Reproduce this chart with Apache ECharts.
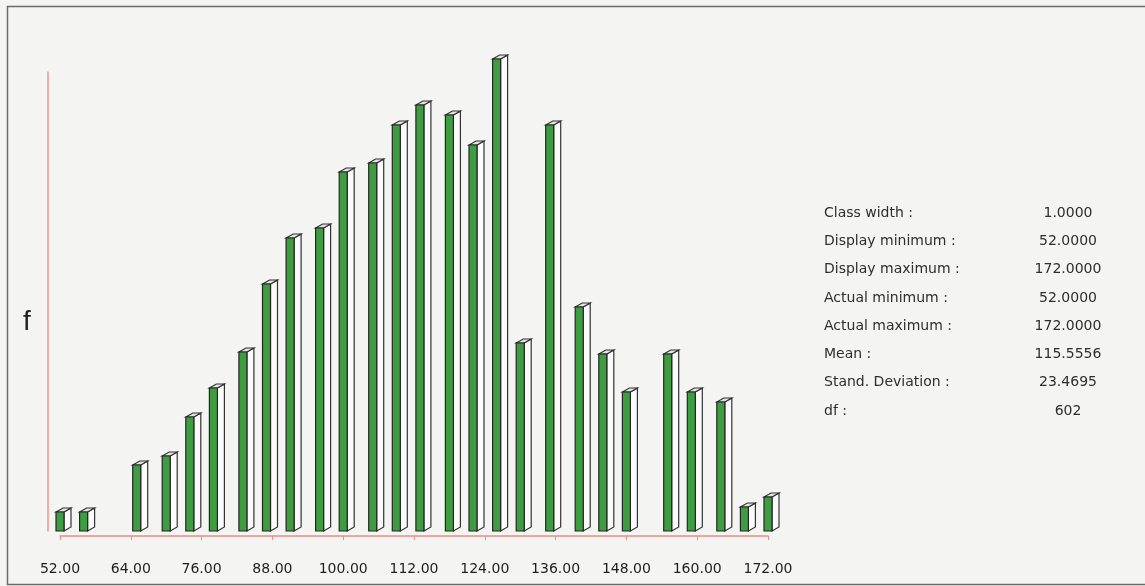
<!DOCTYPE html>
<html><head><meta charset="utf-8">
<script src="https://cdn.jsdelivr.net/npm/echarts@6/dist/echarts.min.js"></script>
<style>html,body{margin:0;padding:0;background:#f4f4f2}#c{width:1145px;height:586px}</style>
</head><body><div id="c"></div>
<script>
// class values (x) and frequencies (f)
const classValues = [52,56,65,70,74,78,83,87,91,96,100,105,109,113,118,122,126,130,135,140,144,148,155,159,164,168,172];
const frequencies = [1.9,1.9,6.6,7.5,11.4,14.3,17.9,24.7,29.3,30.3,35.9,36.8,40.6,42.6,41.6,38.6,47.2,18.8,40.6,22.4,17.7,13.9,17.7,13.9,12.9,2.4,3.4];
const xTickLabels = ['52.00','64.00','76.00','88.00','100.00','112.00','124.00','136.00','148.00','160.00','172.00'];
const statLabels = ['Class width :','Display minimum :','Display maximum :','Actual minimum :','Actual maximum :','Mean :','Stand. Deviation :','df :'];
const statValues = ['1.0000','52.0000','172.0000','52.0000','172.0000','115.5556','23.4695','602'];
const yAxisName = 'f';

const chart = echarts.init(document.getElementById('c'), null, {renderer:'canvas'});
const data = classValues.map((x,i)=>[x, frequencies[i]]);
const graphics = [
  {type:'rect', left:5, top:4, shape:{x:0,y:0,width:1150,height:578}, style:{fill:'none', stroke:'#6a6a6a', lineWidth:1.5}, z:-1},
  {type:'text', x:27, y:322, style:{text:yAxisName, font:'28px "Liberation Sans", Arial, sans-serif', fill:'#222', textAlign:'center', textVerticalAlign:'middle'}}
];
statLabels.forEach((t,i)=>{
  const y = 213 + i*28.3;
  graphics.push({type:'text', x:824, y:y, style:{text:t, font:'14px "DejaVu Sans", sans-serif', fill:'#2e2e2e', textAlign:'left', textVerticalAlign:'middle'}});
  graphics.push({type:'text', x:1068, y:y, style:{text:statValues[i], font:'14px "DejaVu Sans", sans-serif', fill:'#2e2e2e', textAlign:'center', textVerticalAlign:'middle'}});
});

chart.setOption({
  backgroundColor:'#f4f4f2',
  animation:false,
  grid:{left:60, right:377, top:72, bottom:55},
  xAxis:{type:'value', min:52, max:172, interval:12, offset:5,
    axisLine:{show:true, onZero:false, lineStyle:{color:'#ee8c84', width:1.5}},
    axisTick:{show:true, length:4, lineStyle:{color:'#ee8c84'}},
    axisLabel:{fontSize:14, fontFamily:'DejaVu Sans', color:'#1e1e1e', margin:26,
      formatter:(v)=>xTickLabels[Math.round((v-52)/12)]},
    splitLine:{show:false}},
  yAxis:{type:'value', min:0, max:45.9, offset:12,
    axisLine:{show:true, onZero:false, lineStyle:{color:'#f0948c', width:1.5}},
    axisTick:{show:false}, axisLabel:{show:false}, splitLine:{show:false}},
  graphic:graphics,
  series:[{
    type:'custom', clip:false, data:data,
    renderItem:function(params, api){
      const x = api.value(0), v = api.value(1);
      const top = api.coord([x, v]);
      const base = api.coord([x, 0]);
      const w = 8, dx = 7, dy = 4;
      const x0 = top[0] - w/2, x1 = x0 + w;
      const yt = top[1], yb = base[1];
      return {type:'group', children:[
        {type:'polygon', shape:{points:[[x1,yt],[x1+dx,yt-dy],[x1+dx,yb-dy],[x1,yb]]}, style:{fill:'#fbfbfb', stroke:'#333', lineWidth:1.2}},
        {type:'polygon', shape:{points:[[x0,yt],[x0+dx,yt-dy],[x1+dx,yt-dy],[x1,yt]]}, style:{fill:'#e4e4e4', stroke:'#333', lineWidth:1.2}},
        {type:'rect', shape:{x:x0,y:yt,width:w,height:yb-yt}, style:{fill:'#3d9d40', stroke:'#262626', lineWidth:1.2}}
      ]};
    }
  }]
});
</script></body></html>
